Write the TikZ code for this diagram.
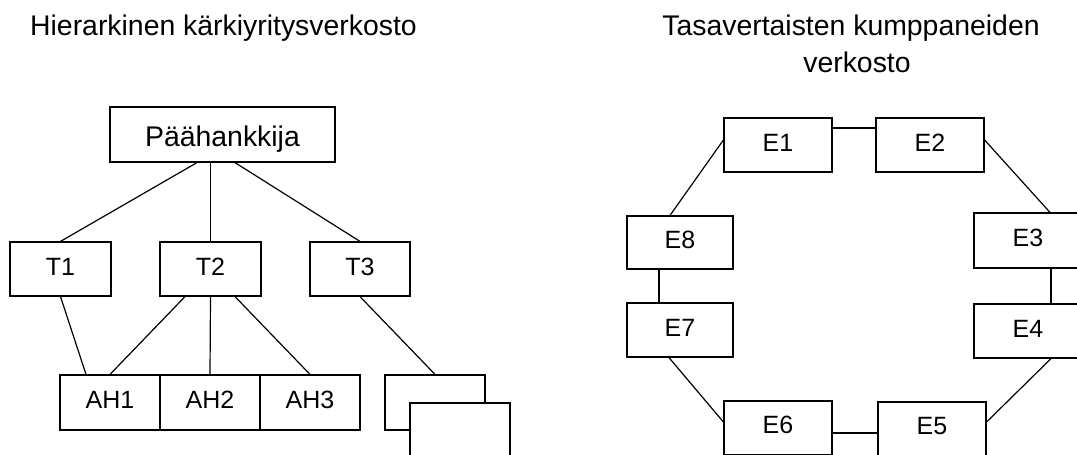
\documentclass[tikz,border=0pt]{standalone}
\usepackage{fontspec}
\setmainfont{Liberation Sans}
\begin{document}
\begin{tikzpicture}[x=1pt,y=-1pt,
  line width=1.2pt,
  bx/.style={draw=black,fill=white,rectangle,inner sep=0pt,text depth=4.5pt,font=\fontsize{25}{29}\selectfont},
  ttl/.style={anchor=base,inner sep=0pt,font=\fontsize{28.4}{34}\selectfont}]
\useasboundingbox (0,0) rectangle (1077,455);
\clip (0,0) rectangle (1077,455);
% titles
\node[ttl] (t1) at (223.5,35) {Hierarkinen kärkiyritysverkosto};
\node[ttl] (t2a) at (851,35) {Tasavertaisten kumppaneiden};
\node[ttl] (t2b) at (857,72) {verkosto};
% hierarchy
\node[bx,minimum width=225pt,minimum height=55pt,text height=23.4pt,text depth=0pt,font=\fontsize{28.4}{34}\selectfont] (paa) at (222.5,134.5) {Päähankkija};
\node[bx,minimum width=101pt,minimum height=54pt] (T1) at (60.5,269) {T1};
\node[bx,minimum width=101pt,minimum height=54pt] (T2) at (210.5,269) {T2};
\node[bx,minimum width=100pt,minimum height=54pt] (T3) at (360,269) {T3};
\node[bx,minimum width=100pt,minimum height=55pt] (AH1) at (110,402.5) {AH1};
\node[bx,minimum width=100pt,minimum height=55pt] (AH2) at (210,402.5) {AH2};
\node[bx,minimum width=100pt,minimum height=55pt] (AH3) at (310,402.5) {AH3};
\node[bx,minimum width=100pt,minimum height=55pt] (back) at (435,402.5) {};
\node[bx,minimum width=100pt,minimum height=55pt] (front) at (460,430.5) {};
\draw ([xshift=-25.5pt]paa.south) -- (T1.north);
\draw (T2.north |- paa.south) -- (T2.north);
\draw ([xshift=12.5pt]paa.south) -- (T3.north);
\draw (T1.south) -- ([xshift=-24pt]AH1.north);
\draw ([xshift=-25.5pt]T2.south) -- (AH1.north);
\draw (T2.south) -- (AH2.north);
\draw ([xshift=24.5pt]T2.south) -- (AH3.north);
\draw (T3.south) -- (back.north);
% ring
\node[bx,minimum width=108pt,minimum height=54pt] (E1) at (778,145) {E1};
\node[bx,minimum width=108pt,minimum height=54pt] (E2) at (930,145) {E2};
\node[bx,minimum width=108pt,minimum height=55pt] (E3) at (1028,240.5) {E3};
\node[bx,minimum width=108pt,minimum height=54pt] (E4) at (1028,331) {E4};
\node[bx,minimum width=108pt,minimum height=54pt,text depth=6pt] (E5) at (932,429) {E5};
\node[bx,minimum width=108pt,minimum height=54pt,text depth=7pt] (E6) at (778,428) {E6};
\node[bx,minimum width=106pt,minimum height=54pt] (E7) at (680,330) {E7};
\node[bx,minimum width=106pt,minimum height=53pt] (E8) at (680,242.5) {E8};
\draw ([yshift=17pt]E1.east) -- ([yshift=17pt]E1.east -| E2.west);
\draw ([yshift=5pt]E2.east) -- ([xshift=22pt]E3.north);
\draw ([xshift=23pt]E3.south) -- ([xshift=23pt]E4.north);
\draw ([xshift=23pt]E4.south) -- ([yshift=7pt]E5.east);
\draw ([yshift=-5pt]E6.east) -- ([yshift=-5pt]E6.east -| E5.west);
\draw ([yshift=6pt]E6.west) -- ([xshift=-11pt]E7.south);
\draw ([xshift=-21pt]E7.north) -- ([xshift=-21pt]E8.south);
\draw ([xshift=-10pt]E8.north) -- ([yshift=5pt]E1.west);
\end{tikzpicture}
\end{document}
